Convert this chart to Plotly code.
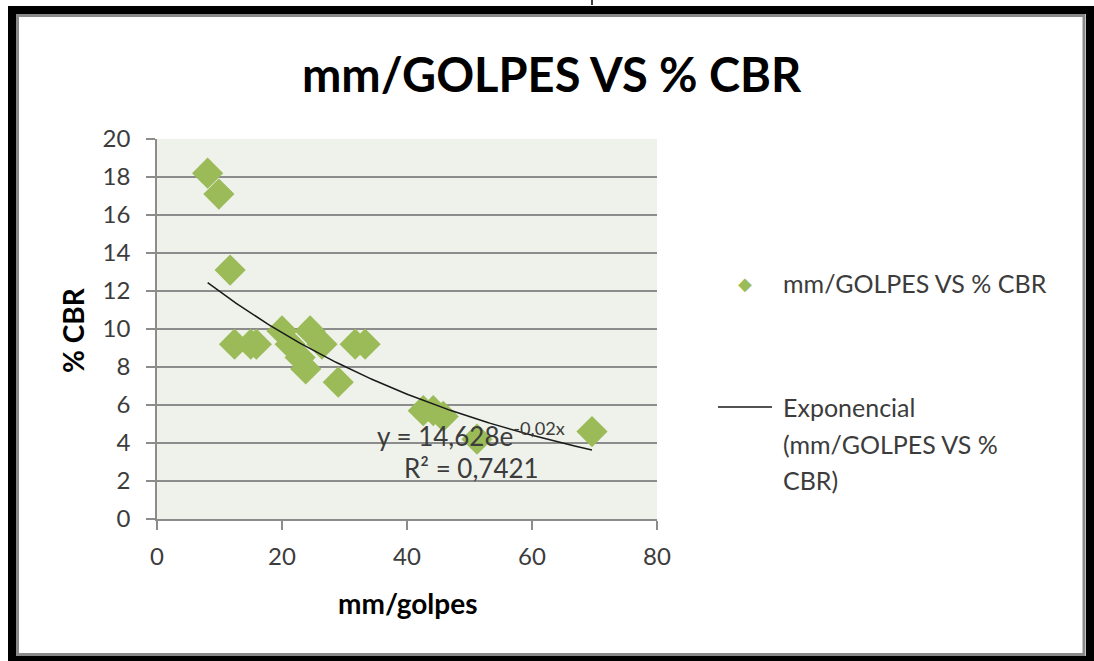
import numpy as np
import plotly.graph_objects as go

# mm/golpes vs % CBR readings
mm_golpes = [8.1, 9.9, 11.7, 12.4, 15.0, 15.9, 20.0, 21.3, 22.9, 23.8,
             24.5, 26.4, 29.0, 31.7, 33.3, 42.6, 44.2, 45.8, 51.2, 69.6]
cbr_pct = [18.2, 17.1, 13.1, 9.2, 9.2, 9.2, 9.9, 9.2, 8.5, 7.9,
           9.9, 9.2, 7.2, 9.2, 9.2, 5.7, 5.7, 5.4, 4.2, 4.6]

# Exponential trend line y = a * e^(b x)
trend_a = 14.628
trend_b = -0.02
r_squared = 0.7421

x_ticks = [0, 20, 40, 60, 80]
y_ticks = list(range(0, 21, 2))

series_name = "mm/GOLPES VS % CBR"
trend_name_lines = ["Exponencial", "(mm/GOLPES VS %", "CBR)"]

W, H = 1094, 661
L, R, T, B = 157, 657, 139, 519  # plot area in pixels


def px(xp):
    return (xp - L) / (R - L)


def py(yp):
    return (B - yp) / (B - T)


FONT = "Lato, 'Open Sans', sans-serif"
TXT = "#3c3c3c"
GREEN = "#9BBB59"
GRID = "#8c8c8c"

trend_x = np.linspace(min(mm_golpes), max(mm_golpes), 200)
trend_y = trend_a * np.exp(trend_b * trend_x)

fig = go.Figure()
fig.add_trace(go.Scatter(
    x=mm_golpes, y=cbr_pct, mode="markers", name=series_name,
    marker=dict(symbol="diamond", size=24, color=GREEN, line=dict(width=0)),
    showlegend=False,
))
fig.add_trace(go.Scatter(
    x=trend_x, y=trend_y, mode="lines", name=" ".join(trend_name_lines),
    line=dict(color="#1a1a1a", width=1.5), showlegend=False,
))

eq_text = "y = {}e<sup>{}x</sup>".format(
    str(trend_a).replace(".", ","), str(trend_b).replace(".", ","))
r2_text = "R² = {}".format(str(r_squared).replace(".", ","))

annotations = [
    dict(text="<b>mm/GOLPES VS % CBR</b>", x=px(552), y=py(74),
         font=dict(size=47, color="#000000", family=FONT)),
    dict(text="<b>% CBR</b>", x=px(73), y=py(330), textangle=-90,
         font=dict(size=28, color="#000000", family=FONT)),
    dict(text="<b>mm/golpes</b>", x=px(407), y=py(603),
         font=dict(size=28, color="#000000", family=FONT)),
    dict(text=eq_text, x=px(471), y=py(434),
         font=dict(size=26, color=TXT, family=FONT)),
    dict(text=r2_text, x=px(471), y=py(468),
         font=dict(size=26, color=TXT, family=FONT)),
    # legend keys and labels
    dict(text="◆", x=px(745), y=py(283),
         font=dict(size=18, color=GREEN, family="DejaVu Sans")),
    dict(text=series_name, x=px(781), y=py(283), xanchor="left",
         font=dict(size=25, color=TXT, family=FONT)),
]
for i, line_txt in enumerate(trend_name_lines):
    annotations.append(dict(text=line_txt, x=px(781), y=py(407 + 36.5 * i),
                            xanchor="left",
                            font=dict(size=25, color=TXT, family=FONT)))
for a in annotations:
    a.setdefault("xanchor", "center")
    a.update(xref="paper", yref="paper", yanchor="middle", showarrow=False)

shapes = [
    # legend line key
    dict(type="line", x0=px(718), x1=px(772), y0=py(407), y1=py(407),
         line=dict(color="#1a1a1a", width=1.5)),
    # frame: grey inner edge then thick black border
    dict(type="rect", x0=px(17.5), x1=px(1084), y0=py(15.5), y1=py(654.5),
         line=dict(color="#8a8a8a", width=3)),
    dict(type="rect", x0=px(12), x1=px(1090), y0=py(10), y1=py(660),
         line=dict(color="#000000", width=8)),
    dict(type="line", x0=px(592), x1=px(592), y0=py(0), y1=py(5),
         line=dict(color="#000000", width=1.5)),
]
for s in shapes:
    s.update(xref="paper", yref="paper", layer="above")

fig.update_layout(
    width=W, height=H,
    margin=dict(l=L, r=W - R, t=T, b=H - B, pad=0),
    paper_bgcolor="#ffffff",
    plot_bgcolor="#EFF2EA",
    showlegend=False,
    annotations=annotations,
    shapes=shapes,
    font=dict(family=FONT, color=TXT, size=24),
)
fig.update_xaxes(
    range=[0, 80], tickvals=x_ticks, ticktext=[str(v) for v in x_ticks],
    showgrid=False, zeroline=False, showline=True, linecolor=GRID, linewidth=1.5,
    ticks="outside", ticklen=9, tickcolor=GRID, tickwidth=1.5,
    tickfont=dict(size=24, color=TXT, family=FONT), ticklabelstandoff=6,
)
fig.update_yaxes(
    range=[0, 20], tickvals=y_ticks, ticktext=[str(v) for v in y_ticks],
    showgrid=True, gridcolor=GRID, gridwidth=1.5, zeroline=False,
    showline=True, linecolor=GRID, linewidth=1.5,
    ticks="outside", ticklen=9, tickcolor=GRID, tickwidth=1.5,
    tickfont=dict(size=24, color=TXT, family=FONT), ticklabelstandoff=11,
)

fig.write_html("out.html")
